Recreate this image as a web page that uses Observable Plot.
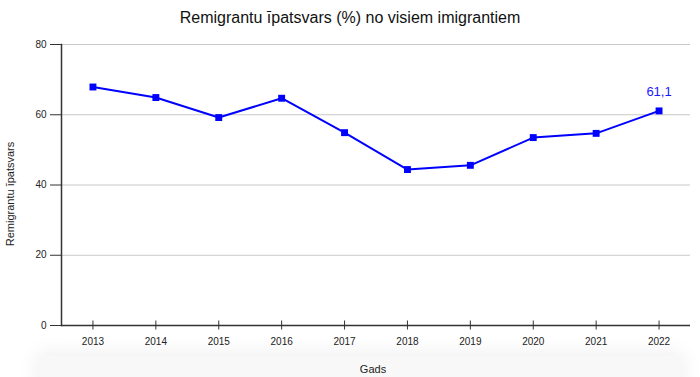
<!DOCTYPE html>
<html>
<head>
<meta charset="utf-8">
<script src="https://cdn.jsdelivr.net/npm/d3@7"></script>
<script src="https://cdn.jsdelivr.net/npm/@observablehq/plot@0.6"></script>
<style>
  html, body { margin: 0; padding: 0; background: #fff; }
  body { width: 700px; height: 377px; overflow: hidden; position: relative; font-family: "Liberation Sans", Arial, sans-serif; }
  #title { position: absolute; top: 9px; left: 0; width: 700px; text-align: center; font-size: 16px; color: #111; }
  #shadow { position: absolute; left: 40px; top: 356px; width: 640px; height: 60px; background: #f8f8f8; box-shadow: 0 0 18px 6px rgba(0,0,0,0.05); border-radius: 6px; }
  #chart { position: absolute; top: 35px; left: 0; }
</style>
</head>
<body>
<div id="shadow"></div>
<div id="title">Remigrantu īpatsvars (%) no visiem imigrantiem</div>
<div id="chart"></div>
<script>
const years = ["2013","2014","2015","2016","2017","2018","2019","2020","2021","2022"];
const shares = [67.9, 64.9, 59.2, 64.7, 54.9, 44.4, 45.6, 53.5, 54.7, 61.1];
const yTicks = [0, 20, 40, 60, 80];
const yLabel = "Remigrantu īpatsvars";
const xLabel = "Gads";

const data = years.map((y, i) => ({year: y, value: shares[i]}));
const last = data[data.length - 1];
const fmt = v => String(v).replace(".", ",");

const chart = Plot.plot({
  width: 700,
  height: 342,
  marginTop: 9,
  marginBottom: 52,
  marginLeft: 61,
  marginRight: 10,
  style: {fontFamily: "'Liberation Sans', Arial, sans-serif", fontSize: "10px", color: "#222", background: "transparent"},
  x: {type: "point", domain: years, padding: 0.5, round: false, label: null},
  y: {domain: [0, 80], label: null},
  marks: [
    Plot.gridY(yTicks, {stroke: "#c8c8c8", strokeOpacity: 1, strokeWidth: 1}),
    Plot.ruleY([0], {stroke: "#333", strokeWidth: 1.5}),
    Plot.frame({anchor: "left", stroke: "#333", strokeWidth: 1.5}),
    Plot.axisY(yTicks, {tickSize: 11, tickPadding: 4, stroke: "#333", label: null}),
    Plot.axisX({tickSize: 9, dy: -4.5, tickFormat: () => "", stroke: "#333", label: null}),
    Plot.axisX({tickSize: 0, tickPadding: 12, label: null}),
    Plot.text([yLabel], {frameAnchor: "left", textAnchor: "middle", rotate: -90, dx: -51, dy: 9, fontSize: 11, fill: "#222"}),
    Plot.text([xLabel], {frameAnchor: "bottom", dy: 47, dx: -3, fontSize: 11, fill: "#222"}),
    Plot.line(data, {x: "year", y: "value", stroke: "#0000ff", strokeWidth: 2}),
    Plot.dot(data, {x: "year", y: "value", symbol: "square", r: 3.9, fill: "#0000ff", stroke: "none"}),
    Plot.text([last], {x: "year", y: "value", text: d => fmt(d.value), dy: -19, fontSize: 13, fill: "#1a1aff"})
  ]
});
document.getElementById("chart").appendChild(chart);
</script>
</body>
</html>
